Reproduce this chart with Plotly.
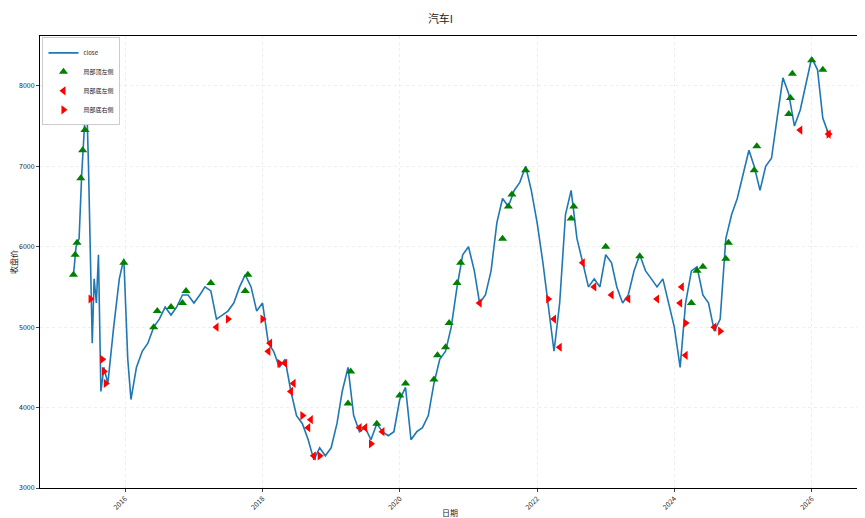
import plotly.graph_objects as go

dates = ["2015-04-01","2015-04-15","2015-05-01","2015-05-15","2015-06-01","2015-06-10","2015-06-20","2015-07-01","2015-07-10","2015-07-20","2015-08-01","2015-08-12","2015-08-25","2015-09-10","2015-10-01","2015-11-01","2015-12-01","2015-12-25","2016-01-15","2016-02-01","2016-03-01","2016-04-01","2016-05-01","2016-06-01","2016-07-01","2016-08-01","2016-09-01","2016-10-01","2016-11-01","2016-12-01","2017-01-01","2017-02-01","2017-03-01","2017-04-01","2017-05-01","2017-06-01","2017-07-01","2017-08-01","2017-09-01","2017-10-01","2017-11-01","2017-12-01","2018-01-01","2018-02-01","2018-03-01","2018-04-01","2018-05-01","2018-06-01","2018-07-01","2018-08-01","2018-09-01","2018-10-01","2018-11-01","2018-12-01","2019-01-01","2019-02-01","2019-03-01","2019-04-01","2019-05-01","2019-06-01","2019-07-01","2019-08-01","2019-09-01","2019-10-01","2019-11-01","2019-12-01","2020-01-01","2020-02-01","2020-03-01","2020-04-01","2020-05-01","2020-06-01","2020-07-01","2020-08-01","2020-09-01","2020-10-01","2020-11-01","2020-12-01","2021-01-01","2021-02-01","2021-03-01","2021-04-01","2021-05-01","2021-06-01","2021-07-01","2021-08-01","2021-09-01","2021-10-01","2021-11-01","2021-12-01","2022-01-01","2022-02-01","2022-03-01","2022-04-01","2022-05-01","2022-06-01","2022-07-01","2022-08-01","2022-09-01","2022-10-01","2022-11-01","2022-12-01","2023-01-01","2023-02-01","2023-03-01","2023-04-01","2023-05-01","2023-06-01","2023-07-01","2023-08-01","2023-09-01","2023-10-01","2023-11-01","2023-12-01","2024-01-01","2024-02-01","2024-03-01","2024-04-01","2024-05-01","2024-06-01","2024-07-01","2024-08-01","2024-09-01","2024-10-01","2024-11-01","2024-12-01","2025-01-01","2025-02-01","2025-03-01","2025-04-01","2025-05-01","2025-06-01","2025-07-01","2025-08-01","2025-09-01","2025-10-01","2025-11-01","2025-12-01","2026-01-01","2026-02-01","2026-03-01","2026-04-01"]
close = [5650,6000,6100,6900,7600,7850,7000,5800,4800,5600,5300,5900,4200,4500,4300,5000,5600,5850,4600,4100,4500,4700,4800,5000,5100,5250,5150,5250,5400,5400,5300,5400,5500,5450,5100,5150,5200,5300,5500,5650,5500,5200,5300,4800,4700,4500,4600,4200,3900,3800,3600,3350,3500,3400,3500,3800,4200,4500,3900,3700,3750,3600,3800,3700,3650,3700,4100,4250,3600,3700,3750,3900,4300,4600,4700,5000,5500,5900,6000,5700,5300,5400,5700,6300,6600,6500,6700,6800,7000,6700,6300,5800,5300,4700,5300,6400,6700,6100,5800,5500,5600,5500,5900,5800,5500,5300,5400,5700,5900,5700,5600,5500,5600,5300,5000,4500,5300,5700,5750,5400,5300,4950,5100,6100,6400,6600,6900,7200,7000,6700,7000,7100,7600,8100,7900,7500,7700,8000,8350,8200,7600,7400]

top_dates = ["2015-04-01","2015-04-10","2015-04-20","2015-05-10","2015-05-20","2015-06-01","2015-06-05","2015-12-25","2016-06-01","2016-06-20","2016-09-01","2016-11-01","2016-11-20","2017-04-01","2017-10-01","2017-10-15","2019-04-01","2019-04-15","2019-09-01","2020-01-01","2020-02-01","2020-07-01","2020-07-20","2020-09-01","2020-09-20","2020-11-01","2020-11-20","2021-07-01","2021-08-01","2021-08-20","2021-11-01","2022-07-01","2022-07-15","2023-01-01","2023-07-01","2024-04-01","2024-05-01","2024-06-01","2024-10-01","2024-10-15","2025-03-01","2025-03-15","2025-09-01","2025-09-10","2025-09-20","2026-01-01","2026-03-01"]
top_vals = [5650,5900,6050,6850,7200,7450,7600,5800,5000,5200,5250,5300,5450,5550,5450,5650,4050,4450,3800,4150,4300,4350,4650,4750,5050,5550,5800,6100,6500,6650,6950,6350,6500,6000,5880,5300,5700,5750,5850,6050,6950,7250,7650,7850,8150,8320,8200]

lleft_dates = ["2017-05-01","2018-02-01","2018-02-10","2018-05-01","2018-06-01","2018-06-15","2018-09-01","2018-09-15","2018-10-01","2019-06-01","2019-07-01","2019-10-01","2021-03-01","2022-04-01","2022-05-01","2022-09-01","2022-11-01","2023-02-01","2023-05-01","2023-10-01","2024-02-01","2024-02-10","2024-03-01","2024-08-01","2025-11-01","2026-04-01"]
lleft_vals = [5000,4700,4800,4550,4200,4300,3750,3850,3400,3750,3750,3700,5300,5100,4750,5800,5500,5400,5350,5350,5300,5500,4650,5000,7450,7400]

bright_dates = ["2015-07-01","2015-09-01","2015-09-10","2015-09-20","2017-07-01","2018-01-01","2018-04-01","2018-08-01","2018-11-01","2019-08-01","2022-03-01","2024-03-01","2024-09-01","2026-04-01"]
bright_vals = [5350,4600,4450,4300,5100,5100,4550,3900,3400,3550,5350,5050,4950,7400]

fig = go.Figure()
fig.add_trace(go.Scatter(x=dates, y=close, mode="lines", name="close",
                         line=dict(color="#1f77b4", width=1.6)))
fig.add_trace(go.Scatter(x=top_dates, y=top_vals, mode="markers", name="局部顶左侧",
                         marker=dict(symbol="triangle-up", color="green", size=8)))
fig.add_trace(go.Scatter(x=lleft_dates, y=lleft_vals, mode="markers", name="局部底左侧",
                         marker=dict(symbol="triangle-left", color="red", size=8)))
fig.add_trace(go.Scatter(x=bright_dates, y=bright_vals, mode="markers", name="局部底右侧",
                         marker=dict(symbol="triangle-right", color="red", size=8)))

ticks = ["2016-01-01","2018-01-01","2020-01-01","2022-01-01","2024-01-01","2026-01-01"]
fig.update_layout(
    width=865, height=518, template="plotly_white",
    font=dict(family="Noto Sans CJK SC", size=7, color="#222"),
    title=dict(text="汽车I", x=0.5, xanchor="center", y=0.985, font=dict(size=11)),
    margin=dict(l=32, r=13, t=28, b=38),
    legend=dict(x=0.003, y=0.997, xanchor="left", yanchor="top", bgcolor="white",
                bordercolor="#ccc", borderwidth=1, font=dict(size=6),
                itemwidth=30, tracegroupgap=0),
    annotations=[dict(text="日期", x=0.5, y=-0.07, xref="paper", yref="paper",
                      showarrow=False, font=dict(size=8))],
    xaxis=dict(range=["2014-10-05","2026-09-15"],
               tickvals=ticks, ticktext=[t[:4] for t in ticks], tickangle=-45,
               showline=True, linecolor="black", mirror=True, ticks="outside", ticklen=3,
               showgrid=True, gridcolor="#eee", griddash="dot", zeroline=False, automargin=False),
    yaxis=dict(title=dict(text="收盘价", standoff=2), range=[3000, 8620], dtick=1000,
               showline=True, linecolor="black", mirror=True, ticks="outside", ticklen=3,
               showgrid=True, gridcolor="#eee", griddash="dot", zeroline=False, automargin=False),
)
fig.write_html("out.html")
